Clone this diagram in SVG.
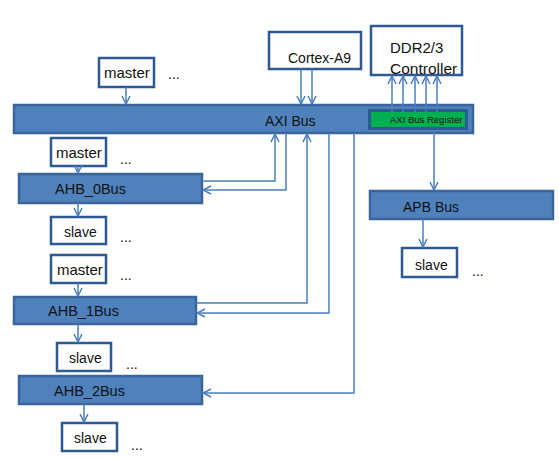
<svg xmlns="http://www.w3.org/2000/svg" width="559" height="458" viewBox="0 0 559 458">
<defs>
<marker id="a" viewBox="0 0 10 10" refX="9" refY="5" markerWidth="10" markerHeight="10" markerUnits="userSpaceOnUse" orient="auto">
<path d="M1,1 L9,5 L1,9" fill="none" stroke="#4A7EBF" stroke-width="1.5"/>
</marker>
<style>
.bar{fill:#4F81BD;stroke:#3A649A;stroke-width:2.5}
.box{fill:#fff;stroke:#2E5A93;stroke-width:2.5}
.t{font-family:"Liberation Sans",Arial,sans-serif;font-size:14px;fill:#111}
.c{fill:none;stroke:#4A7EBF;stroke-width:1.5;marker-end:url(#a)}
.l{fill:none;stroke:#4A7EBF;stroke-width:1.5}
</style>
</defs>
<rect width="559" height="458" fill="#fff"/>

<g id="axi">
<rect class="bar" x="14" y="105" width="459" height="28"/>
<text class="t" x="265" y="126">AXI Bus</text>
<rect x="368" y="109" width="100" height="21" fill="#2E5A93"/>
<rect x="371" y="112" width="94" height="15" fill="#00B050"/>
<text class="t" x="390" y="123" style="font-size:9.5px">AXI Bus Register</text>
</g>

<g id="master0">
<rect class="box" x="99" y="58" width="55" height="29"/>
<text class="t" x="104" y="78" style="font-size:15px">master</text>
<text class="t" x="168" y="79">...</text>
</g>

<g id="cortex">
<rect class="box" x="269" y="32" width="92" height="37"/>
<text class="t" x="288" y="63">Cortex-A9</text>
</g>

<g id="ddr">
<rect class="box" x="371" y="26" width="91" height="49"/>
<text class="t" x="390" y="53" style="font-size:15px">DDR2/3</text>
<text class="t" x="390" y="74" style="font-size:15.5px">Controller</text>
</g>

<g id="apb">
<rect class="bar" x="370" y="191" width="183" height="28"/>
<text class="t" x="403" y="212">APB Bus</text>
</g>

<g id="apbslave">
<rect class="box" x="402" y="248" width="55" height="29"/>
<text class="t" x="415" y="270">slave</text>
<text class="t" x="472" y="276">...</text>
</g>

<g id="master1">
<rect class="box" x="51" y="138" width="55" height="28"/>
<text class="t" x="56" y="158" style="font-size:15px">master</text>
<text class="t" x="120" y="164">...</text>
</g>

<g id="ahb0">
<rect class="bar" x="19" y="174" width="183" height="29"/>
<text class="t" x="55" y="194" style="font-size:14.5px">AHB_0Bus</text>
</g>

<g id="slave0">
<rect class="box" x="51" y="217" width="55" height="27"/>
<text class="t" x="64" y="237">slave</text>
<text class="t" x="120" y="242">...</text>
</g>

<g id="master2">
<rect class="box" x="51" y="255" width="55" height="28"/>
<text class="t" x="57" y="275" style="font-size:15px">master</text>
<text class="t" x="120" y="280">...</text>
</g>

<g id="ahb1">
<rect class="bar" x="14" y="297" width="182" height="27"/>
<text class="t" x="48" y="316" style="font-size:14.5px">AHB_1Bus</text>
</g>

<g id="slave1">
<rect class="box" x="57" y="343" width="54" height="28"/>
<text class="t" x="69" y="363">slave</text>
<text class="t" x="126" y="369">...</text>
</g>

<g id="ahb2">
<rect class="bar" x="19" y="376" width="183" height="28"/>
<text class="t" x="54" y="396" style="font-size:14.5px">AHB_2Bus</text>
</g>

<g id="slave2">
<rect class="box" x="62" y="423" width="55" height="28"/>
<text class="t" x="74" y="443">slave</text>
<text class="t" x="131" y="450">...</text>
</g>

<g id="connectors">
<path class="c" d="M126,87 V104"/>
<path class="c" d="M301,69 V104"/>
<path class="c" d="M312,69 V104"/>
<path class="c" d="M392,112 V76"/>
<path class="c" d="M403,112 V76"/>
<path class="c" d="M415,112 V76"/>
<path class="c" d="M426,112 V76"/>
<path class="c" d="M437,112 V76"/>
<path class="c" d="M434,131 V190"/>
<path class="c" d="M423,219 V247"/>
<path class="c" d="M78,166 V173"/>
<path class="c" d="M78,203 V216"/>
<path class="c" d="M78,283 V296"/>
<path class="c" d="M78,324 V342"/>
<path class="c" d="M84,404 V422"/>
<path class="c" d="M202,181 H275 V134"/>
<path class="c" d="M286,133 V190 H203"/>
<path class="c" d="M196,303 H307 V134"/>
<path class="c" d="M329,133 V313 H197"/>
<path class="c" d="M354,133 V393 H203"/>
</g>
</svg>
